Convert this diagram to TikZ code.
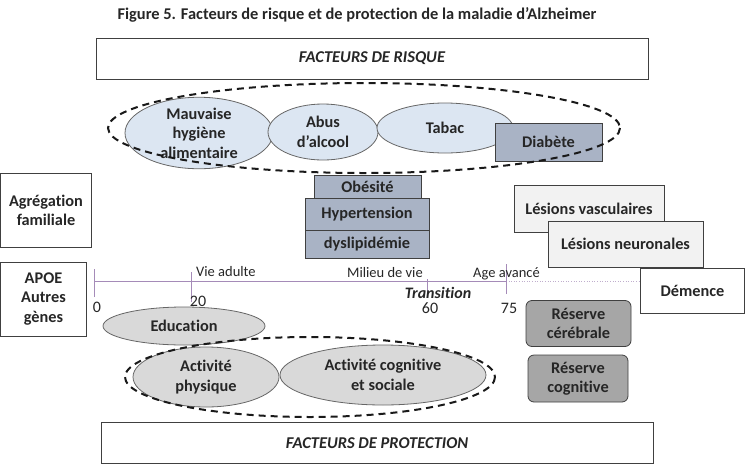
\documentclass[tikz,border=0pt]{standalone}
\usepackage{fontspec}
\setmainfont{Carlito}[Ligatures=NoCommon]
\usetikzlibrary{shapes.geometric}
\definecolor{bleuclair}{HTML}{DCE6F2}
\definecolor{bleugris}{HTML}{A9B3C5}
\definecolor{grisclair}{HTML}{F2F2F2}
\definecolor{grismoyen}{HTML}{D9D9D9}
\definecolor{grisfonce}{HTML}{A6A6A6}
\definecolor{trait}{HTML}{404040}
\definecolor{frise}{HTML}{A58BB8}
\begin{document}
\begin{tikzpicture}[
    x=1pt, y=-1pt,
    txt/.style={font=\fontsize{16.3}{19.5}\selectfont\bfseries, align=center, text=black!85},
    petit/.style={font=\fontsize{14.5}{16}\selectfont, text=black!85, inner sep=1pt},
    chiffre/.style={font=\fontsize{16}{18}\selectfont, text=black!85, inner sep=1pt},
    cadre/.style={draw=trait, line width=0.8pt, inner sep=0pt, txt},
    titrebox/.style={cadre, fill=white, font=\fontsize{16.5}{19}\selectfont\bfseries\itshape},
    oval/.style={ellipse, draw=trait!80, line width=0.8pt, inner sep=0pt, txt},
    pointille/.style={line width=2pt, dash pattern=on 7pt off 5pt, black!90},
    tick/.style={frise, line width=0.6pt}
]
  \useasboundingbox (0,0) rectangle (745,464);

  % Titre
  \node[font=\fontsize{16.4}{19}\selectfont\bfseries, text=black!85] (titre) at (357,15)
    {Figure 5. Facteurs de risque et de protection de la maladie d’Alzheimer};

  % Facteurs de risque
  \node[titrebox, minimum width=552, minimum height=41] (risque) at (372,58.5) {FACTEURS DE RISQUE};
  \node[oval, fill=bleuclair, minimum width=148, minimum height=62] (hygiene) at (199,133) {Mauvaise\\hygiène\\alimentaire};
  \node[oval, fill=bleuclair, minimum width=110, minimum height=56] (alcool) at (323,132) {Abus\\d’alcool};
  \node[oval, fill=bleuclair, minimum width=136, minimum height=50] (tabac) at (445,128) {Tabac};
  \node[cadre, fill=bleugris, minimum width=107, minimum height=38] (diabete) at (548.5,142) {Diabète};
  \draw[pointille] (364,128) ellipse [x radius=256, y radius=45];

  \node[cadre, fill=bleugris, minimum width=107, minimum height=23] (obesite) at (367.5,186.5) {Obésité};
  \node[cadre, fill=bleugris, minimum width=124, minimum height=32] (hta) at (367,214) {Hypertension};
  \node[cadre, fill=bleugris, minimum width=124, minimum height=28] (dyslip) at (367,244) {dyslipidémie};

  % Genetique
  \node[cadre, minimum width=91, minimum height=74] (familiale) at (46,210.5) {Agrégation\\familiale};
  \node[cadre, minimum width=86, minimum height=74] (apoe) at (43.5,299) {APOE\\Autres\\gènes};

  % Lesions
  \node[cadre, fill=grisclair, minimum width=150, minimum height=47] (vasc) at (589,208.5) {Lésions vasculaires};
  \node[cadre, fill=grisclair, minimum width=155, minimum height=46] (neur) at (625.5,244) {Lésions neuronales};

  % Frise des ages
  \node[cadre, minimum width=104, minimum height=45] (demence) at (692.5,291) {Démence};
  \coordinate (t0) at (94,281);
  \coordinate (t20) at (191,281);
  \coordinate (t60) at (427,281);
  \coordinate (t75) at (506,281);
  \draw[tick] (t0) -- (t75);
  \draw[frise!70, line width=0.6pt, dotted] (t75) -- (t75 -| demence.west);
  \draw[tick] ([yshift=-16]t0) -- ([yshift=12]t0);
  \draw[tick] ([yshift=-21]t20) -- ([yshift=9]t20);
  \draw[tick] ([yshift=-16]t60) -- ([yshift=2]t60);
  \draw[tick] ([yshift=-13]t75) -- ([yshift=17]t75);
  \node[petit, anchor=west] (adulte) at (195,272) {Vie adulte};
  \node[petit, anchor=east] (milieu) at (424,273) {Milieu de vie};
  \node[petit, anchor=west] (avance) at (472,274) {Age avancé};
  \node[font=\fontsize{16}{18}\selectfont\bfseries\itshape, text=black!85] (transition) at (438,293) {Transition};
  \node[chiffre] (n0) at (97,307) {0};
  \node[chiffre] (n20) at (198,301) {20};
  \node[chiffre] (n60) at (430,308) {60};
  \node[chiffre] (n75) at (509,308) {75};

  % Reserves
  \node[cadre, fill=grisfonce, rounded corners=6pt, minimum width=105, minimum height=46] (cerebrale) at (578.5,323.5) {Réserve\\cérébrale};
  \node[cadre, fill=grisfonce, rounded corners=6pt, minimum width=100, minimum height=47] (cognitive) at (578,378.5) {Réserve\\cognitive};

  % Facteurs de protection
  \node[oval, fill=grismoyen, minimum width=162, minimum height=38] (education) at (184,326) {Education};
  \node[oval, fill=grismoyen, minimum width=146, minimum height=60] (physique) at (206,377) {Activité\\physique};
  \node[oval, fill=grismoyen, minimum width=206, minimum height=60] (sociale) at (383,375) {Activité cognitive\\et sociale};
  \draw[pointille] (310,377) ellipse [x radius=185, y radius=40];
  \node[titrebox, minimum width=552, minimum height=41] (protection) at (377,443) {FACTEURS DE PROTECTION};
\end{tikzpicture}
\end{document}
